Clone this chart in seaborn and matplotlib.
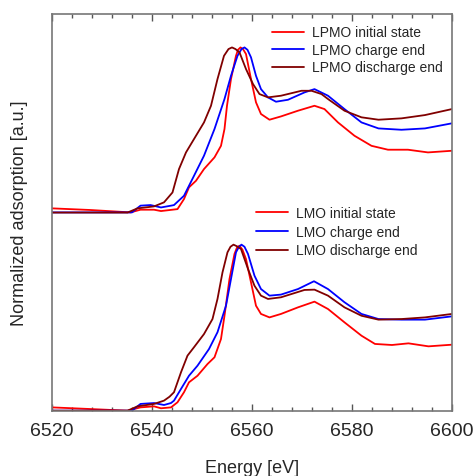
import matplotlib
matplotlib.use("Agg")
import matplotlib.pyplot as plt
import seaborn as sns
from matplotlib.ticker import MultipleLocator, NullLocator

# Mn K-edge XANES (normalized units)
lpmo_init_e = [6520, 6527.7, 6535.7, 6537.7, 6540.4, 6541.8, 6544.1, 6545.1, 6546.4, 6547.4,
               6548.8, 6550.4, 6552.5, 6553.8, 6554.5, 6555.0, 6555.8, 6556.8, 6557.2, 6557.7,
               6558.2, 6558.8, 6559.8, 6560.8, 6561.8, 6563.5, 6565.8, 6569.2, 6572.5, 6574.5,
               6577.2, 6580.5, 6583.9, 6587.2, 6591.2, 6595.2, 6600]
lpmo_init = [0.028, 0.017, 0.001, 0.019, 0.019, 0.010, 0.019, 0.023, 0.090, 0.168,
             0.212, 0.290, 0.368, 0.445, 0.557, 0.712, 0.890, 1.045, 1.085, 1.101,
             1.090, 1.057, 0.890, 0.735, 0.657, 0.619, 0.641, 0.679, 0.712, 0.690,
             0.601, 0.512, 0.445, 0.419, 0.419, 0.401, 0.412]

lpmo_chg_e = [6520, 6536, 6537.7, 6539.7, 6541.8, 6543.8, 6544.4, 6546.4, 6548.4, 6550.4,
              6552.5, 6554.5, 6555.8, 6557.1, 6557.9, 6558.5, 6559.1, 6559.8, 6560.8, 6561.8,
              6563.2, 6564.8, 6567.2, 6570.5, 6572.5, 6575.2, 6578.5, 6581.9, 6585.3, 6589.9,
              6594.6, 6600]
lpmo_chg = [0.001, 0.001, 0.046, 0.050, 0.034, 0.046, 0.050, 0.112, 0.245, 0.379,
            0.557, 0.757, 0.912, 1.045, 1.090, 1.101, 1.085, 1.035, 0.912, 0.823,
            0.768, 0.739, 0.752, 0.801, 0.823, 0.779, 0.690, 0.601, 0.561, 0.552,
            0.561, 0.595]

lpmo_dis_e = [6520, 6535.1, 6537.1, 6540.4, 6542.4, 6544.1, 6545.4, 6546.8, 6548.4, 6550.4,
              6551.8, 6553.1, 6554.4, 6555.3, 6556.0, 6556.7, 6557.5, 6558.8, 6560.2, 6561.5,
              6563.2, 6565.8, 6569.9, 6571.9, 6573.9, 6575.2, 6578.5, 6581.9, 6585.3, 6589.9,
              6594.6, 6600]
lpmo_dis = [0.0, 0.0, 0.028, 0.041, 0.068, 0.134, 0.290, 0.401, 0.490, 0.601,
            0.712, 0.890, 1.045, 1.090, 1.101, 1.090, 1.068, 0.957, 0.857, 0.790,
            0.768, 0.779, 0.812, 0.812, 0.790, 0.757, 0.679, 0.635, 0.619, 0.628,
            0.650, 0.690]

lmo_init_e = [6520, 6527.7, 6535.1, 6537.7, 6540.4, 6541.8, 6543.8, 6545.1, 6546.4, 6547.4,
              6549.1, 6551.1, 6552.5, 6553.8, 6554.5, 6555.5, 6556.5, 6557.0, 6557.5, 6558.1,
              6558.8, 6559.8, 6560.8, 6561.8, 6563.5, 6565.8, 6569.2, 6572.5, 6575.2, 6578.5,
              6581.9, 6584.6, 6588, 6591.3, 6595.3, 6600]
lmo_init = [0.024, 0.013, 0.002, 0.024, 0.031, 0.018, 0.024, 0.058, 0.125, 0.191,
            0.235, 0.313, 0.358, 0.480, 0.635, 0.880, 1.047, 1.090, 1.102, 1.075,
            1.013, 0.858, 0.702, 0.647, 0.624, 0.647, 0.691, 0.729, 0.680, 0.591,
            0.502, 0.447, 0.440, 0.451, 0.431, 0.442]

lmo_chg_e = [6520, 6536, 6537.7, 6540.4, 6542.4, 6543.8, 6544.4, 6545.8, 6547.4, 6549.1,
             6551.4, 6553.1, 6554.8, 6555.8, 6556.8, 6557.4, 6557.9, 6558.5, 6559.2, 6560.5,
             6561.8, 6563.5, 6565.8, 6569.2, 6572.4, 6575.2, 6578.5, 6581.9, 6585.3, 6589.9,
             6594.6, 6600]
lmo_chg = [0.002, 0.002, 0.047, 0.053, 0.040, 0.053, 0.069, 0.147, 0.235, 0.302,
           0.413, 0.525, 0.702, 0.880, 1.058, 1.095, 1.109, 1.095, 1.047, 0.902,
           0.813, 0.769, 0.776, 0.813, 0.865, 0.813, 0.725, 0.647, 0.613, 0.609,
           0.609, 0.631]

lmo_dis_e = [6520, 6535.1, 6537.1, 6540.4, 6542.4, 6543.5, 6544.4, 6545.8, 6547.1, 6548.4,
             6550.4, 6552.1, 6553.1, 6554.1, 6555.1, 6555.7, 6556.3, 6557.0, 6557.8, 6559.2,
             6560.5, 6561.8, 6563.2, 6565.8, 6570.5, 6572.5, 6575.2, 6578.5, 6581.9, 6585.3,
             6589.9, 6594.6, 6600]
lmo_dis = [0.002, 0.002, 0.031, 0.047, 0.069, 0.095, 0.125, 0.258, 0.369, 0.425,
           0.513, 0.613, 0.747, 0.924, 1.058, 1.095, 1.109, 1.098, 1.080, 0.947,
           0.835, 0.769, 0.747, 0.758, 0.807, 0.809, 0.769, 0.691, 0.635, 0.609,
           0.613, 0.624, 0.647]

lpmo_offset = 1.323

sns.set_style("white")
plt.rcParams["font.family"] = ["Liberation Sans", "DejaVu Sans"]

fig = plt.figure(figsize=(4.75, 4.77), dpi=100)
ax = fig.add_axes([0.1095, 0.1363, 0.842, 0.8323])

red, blue, dred = "#ff0000", "#0000ff", "#800000"
lw = 1.3

sns.lineplot(x=lpmo_init_e, y=[v + lpmo_offset for v in lpmo_init], color=red, lw=lw,
             label="LPMO initial state", ax=ax)
sns.lineplot(x=lpmo_chg_e, y=[v + lpmo_offset for v in lpmo_chg], color=blue, lw=lw,
             label="LPMO charge end", ax=ax)
sns.lineplot(x=lpmo_dis_e, y=[v + lpmo_offset for v in lpmo_dis], color=dred, lw=lw,
             label="LPMO discharge end", ax=ax)
sns.lineplot(x=lmo_init_e, y=lmo_init, color=red, lw=lw, label="LMO initial state", ax=ax)
sns.lineplot(x=lmo_chg_e, y=lmo_chg, color=blue, lw=lw, label="LMO charge end", ax=ax)
sns.lineplot(x=lmo_dis_e, y=lmo_dis, color=dred, lw=lw, label="LMO discharge end", ax=ax)

ax.set_xlim(6520, 6600)
ax.set_ylim(0, 2.647)
ax.xaxis.set_major_locator(MultipleLocator(20))
ax.xaxis.set_minor_locator(MultipleLocator(4))
ax.yaxis.set_major_locator(NullLocator())
ax.tick_params(axis="x", which="both", direction="in", top=True, bottom=True,
               color="#555555", labelsize=14, pad=8)
ax.tick_params(axis="x", which="major", length=5, width=1)
ax.tick_params(axis="x", which="minor", length=3, width=1)
for s in ax.spines.values():
    s.set_color("#777777")
    s.set_linewidth(1.2)

ax.set_xlabel("Energy [eV]", fontsize=13, labelpad=14)
ax.set_ylabel("Normalized adsorption [a.u.]", fontsize=13, labelpad=17)

handles, labels = ax.get_legend_handles_labels()
leg_kw = dict(frameon=False, fontsize=10, handlelength=2.3, handletextpad=0.6,
              borderpad=0, borderaxespad=0, loc="upper left")
leg1 = ax.legend(handles[:3], labels[:3], bbox_to_anchor=(0.549, 0.971),
                 labelspacing=0.25, **leg_kw)
ax.add_artist(leg1)
ax.legend(handles[3:], labels[3:], bbox_to_anchor=(0.51, 0.517),
          labelspacing=0.35, **leg_kw)

fig.savefig("out.png", dpi=100)
